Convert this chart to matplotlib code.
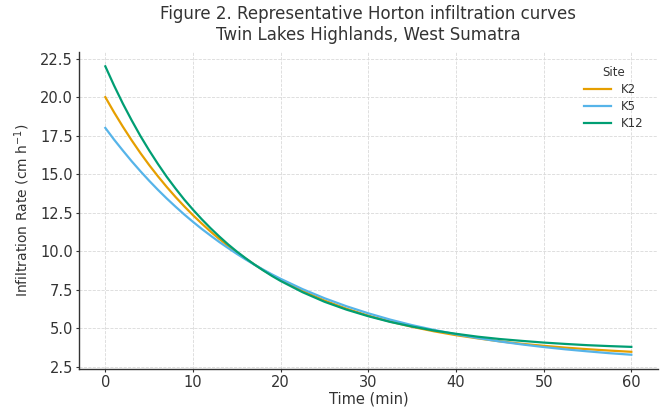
import matplotlib
matplotlib.use("Agg")
import matplotlib.pyplot as plt

# Zeit (min) und Infiltrationsraten (cm/h)
zeit = [0, 1, 2, 3, 4, 5, 6, 7, 8, 9, 10, 11, 12, 13, 14, 15, 16, 17, 18, 19, 20,
        22.5, 25, 27.5, 30, 32.5, 35, 37.5, 40, 42.5, 45, 47.5, 50,
        52.5, 55, 57.5, 60]

k2 = [20.00, 19.01, 18.08, 17.20, 16.37, 15.59, 14.86, 14.17, 13.52, 12.91,
      12.33, 11.79, 11.27, 10.79, 10.34, 9.91, 9.51, 9.13, 8.77, 8.44, 8.12,
      7.41, 6.79, 6.26, 5.81, 5.42, 5.08, 4.79, 4.54, 4.33, 4.14, 3.98,
      3.85, 3.73, 3.63, 3.54, 3.46]
k5 = [18.00, 17.24, 16.53, 15.84, 15.19, 14.57, 13.98, 13.42, 12.89, 12.38,
      11.90, 11.44, 11.01, 10.59, 10.20, 9.82, 9.46, 9.12, 8.80, 8.49, 8.20,
      7.53, 6.94, 6.42, 5.96, 5.55, 5.19, 4.88, 4.60, 4.35, 4.13, 3.94,
      3.77, 3.62, 3.49, 3.37, 3.27]
k12 = [22.00, 20.75, 19.58, 18.50, 17.48, 16.54, 15.66, 14.83, 14.07, 13.35,
       12.69, 12.07, 11.49, 10.95, 10.44, 9.97, 9.54, 9.13, 8.75, 8.39, 8.06,
       7.33, 6.71, 6.20, 5.77, 5.40, 5.10, 4.84, 4.63, 4.44, 4.29, 4.17,
       4.06, 3.97, 3.89, 3.83, 3.78]

sites = ["K2", "K5", "K12"]
farben = ["#E69F00", "#56B4E9", "#009E73"]

textfarbe = "#333333"
plt.rcParams["text.color"] = textfarbe
plt.rcParams["axes.labelcolor"] = textfarbe
plt.rcParams["xtick.color"] = textfarbe
plt.rcParams["ytick.color"] = textfarbe

fig = plt.figure(figsize=(6.72, 4.12), dpi=100)
ax = fig.add_axes([0.1176, 0.104, 0.861, 0.77])

for werte, name, farbe in zip([k2, k5, k12], sites, farben):
    ax.plot(zeit, werte, color=farbe, linewidth=1.6, label=name)

ax.set_title("Figure 2. Representative Horton infiltration curves\n"
             "Twin Lakes Highlands, West Sumatra", fontsize=12, pad=8.5,
             linespacing=1.2)
ax.set_xlabel("Time (min)", fontsize=10.5, labelpad=1)
ax.set_ylabel("Infiltration Rate (cm h$^{-1}$)", fontsize=10, labelpad=6)

ax.set_xticks([0, 10, 20, 30, 40, 50, 60])
ax.set_yticks([2.5, 5.0, 7.5, 10.0, 12.5, 15.0, 17.5, 20.0, 22.5])
ax.tick_params(axis="both", labelsize=10.5, length=2.5, width=0.8, pad=2)

ax.grid(True, linestyle="--", linewidth=0.6, color="#d9d9d9")
ax.set_axisbelow(True)
for s in ["top", "right"]:
    ax.spines[s].set_visible(False)
for s in ["left", "bottom"]:
    ax.spines[s].set_color(textfarbe)
    ax.spines[s].set_linewidth(1.0)

leg = ax.legend(title="Site", loc="upper right", frameon=False,
                fontsize=8.5, title_fontsize=8.5, labelspacing=0.35,
                handlelength=2.3, borderaxespad=0.8)

plt.savefig("out.png", dpi=100)
